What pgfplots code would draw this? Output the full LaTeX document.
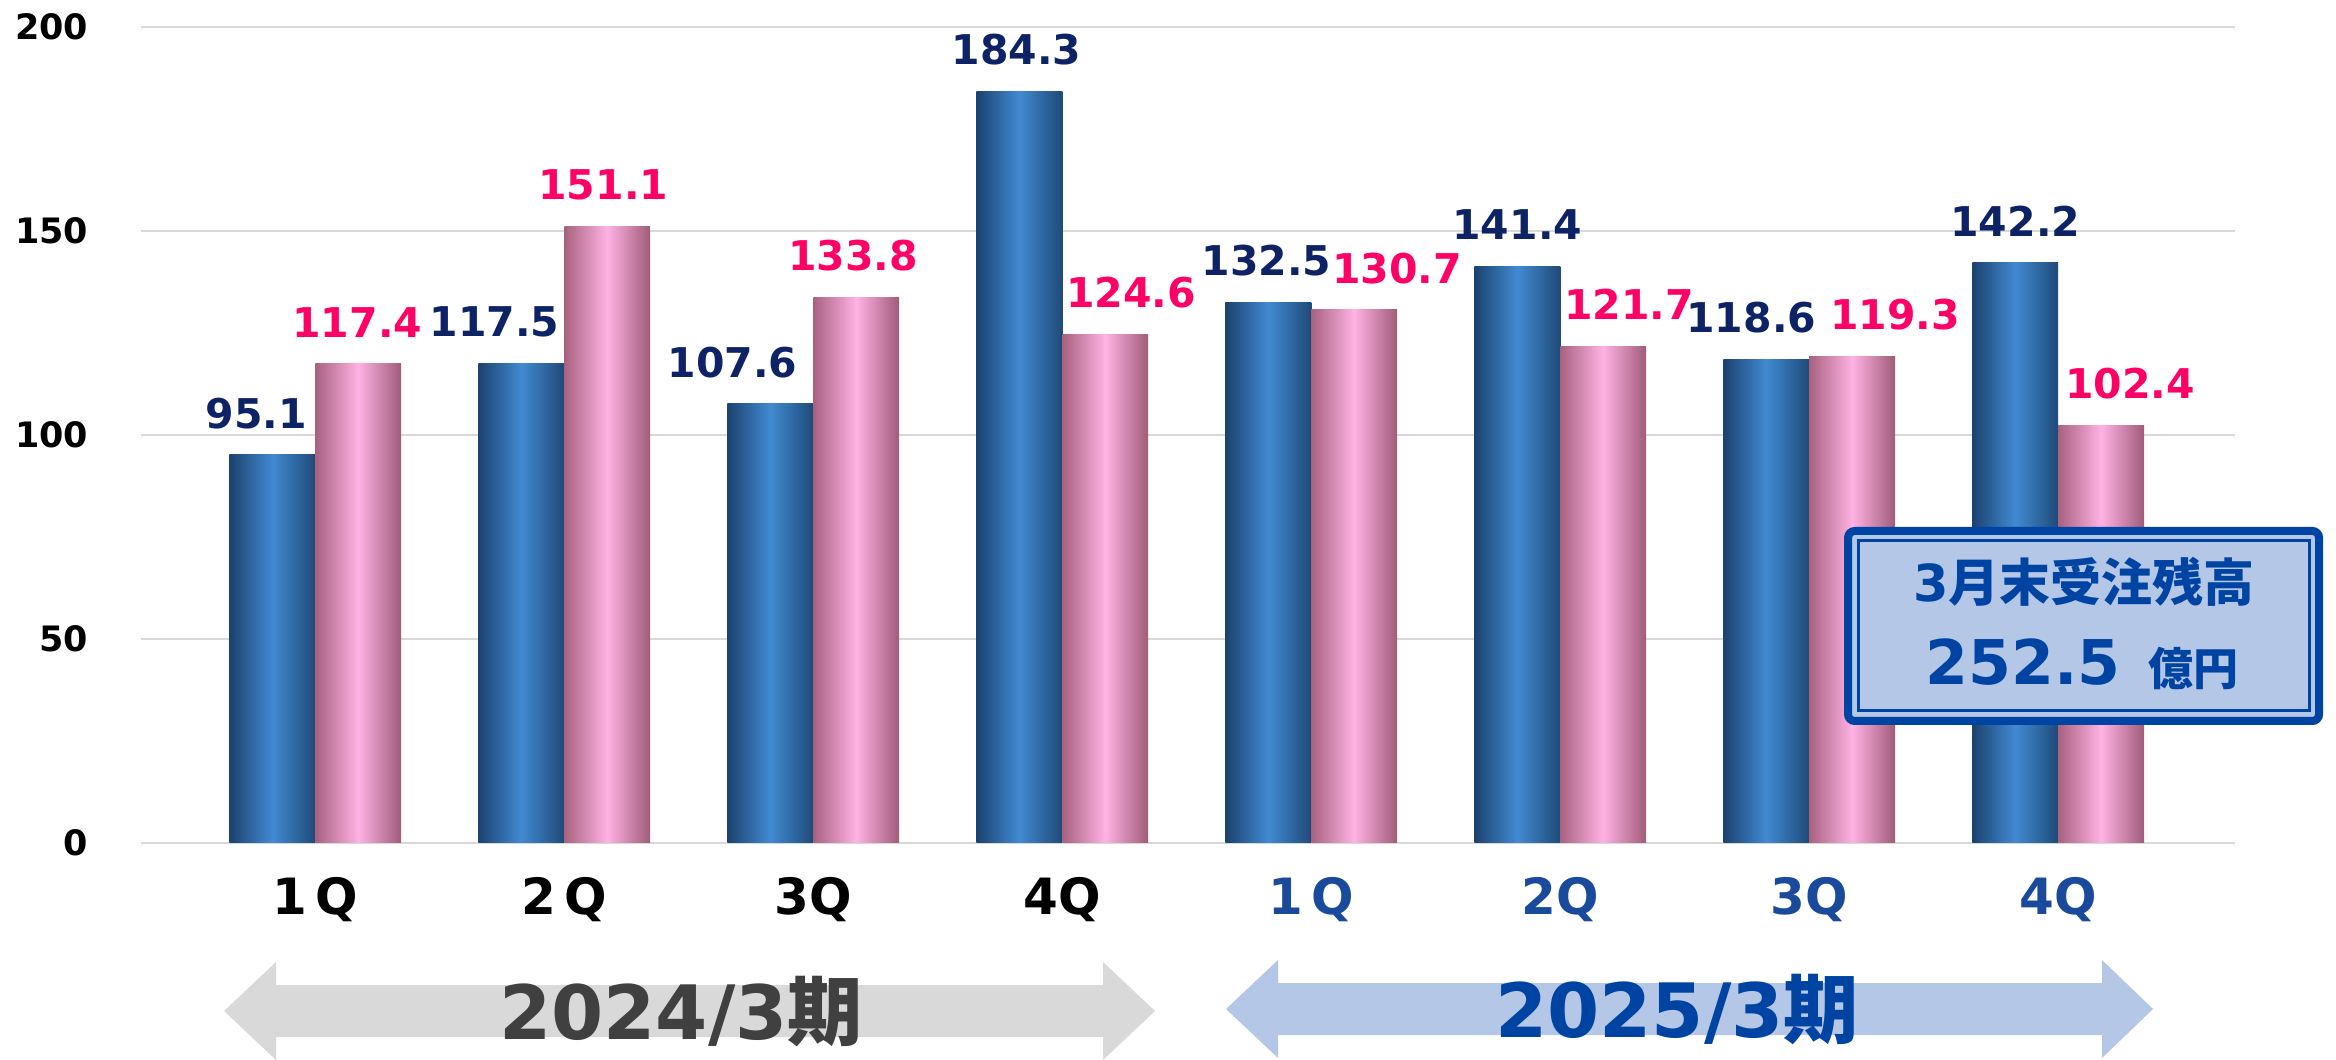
\documentclass[border=0pt]{standalone}
\usepackage{pgfplots}
\pgfplotsset{compat=1.18}
\usepackage{pgfplotstable}
\usepackage{fontspec}
\setmainfont{DejaVu Sans}
\newfontfamily\jp{Noto Sans CJK JP}

\definecolor{navylab}{HTML}{0D2366}
\definecolor{pinklab}{HTML}{FF0066}
\definecolor{bL}{HTML}{1C426F}
\definecolor{bM}{HTML}{418AD2}
\definecolor{bR}{HTML}{1F4A78}
\definecolor{pL}{HTML}{A8627F}
\definecolor{pM}{HTML}{FFB2E4}
\definecolor{pR}{HTML}{A05C78}
\definecolor{catblue}{HTML}{1A4A9C}
\definecolor{arrgray}{HTML}{D9D9D9}
\definecolor{arrblue}{HTML}{B4C7E7}
\definecolor{txtgray}{HTML}{404040}
\definecolor{txtblue}{HTML}{0044A3}
\definecolor{gridc}{HTML}{D9D9D9}

\pgfplotstableread{
x y dx lbl
0 95.1 -4.8 95.1
1 117.5 -8.1 117.5
2 107.6 -11.4 107.6
3 184.3 -0.9 184.3
4 132.5 -0.6 132.5
5 141.4 0 141.4
6 118.6 -4.5 118.6
7 142.2 0 142.2
}\bluedata

\pgfplotstableread{
x y dx lbl
0 117.4 -0.3 117.4
1 151.1 -1.2 151.1
2 133.8 -0.9 133.8
3 124.6 7.8 124.6
4 130.7 12.9 130.7
5 121.7 7.8 121.7
6 119.3 12.9 119.3
7 102.4 8.7 102.4
}\pinkdata

\pgfplotsset{
  barlab/.style={
    point meta=explicit symbolic,
    visualization depends on={\thisrow{dx}\as\labdx},
    nodes near coords,
    every node near coord/.append style={font=\fontsize{12.3}{13}\selectfont\bfseries, text=#1, anchor=base, inner sep=0pt, yshift=8pt, xshift=\labdx pt},
  },
  bluebar/.style={ybar, bar shift=-0.1725, draw=none, left color=bL, right color=bR, middle color=bM, barlab=navylab},
  pinkbar/.style={ybar, bar shift=0.1725, draw=none, left color=pL, right color=pR, middle color=pM, barlab=pinklab},
}

\begin{document}
\begin{tikzpicture}
\begin{axis}[
  at={(42.3pt,65.1pt)}, anchor=south west,
  scale only axis, width=628.2pt, height=244.8pt,
  xmin=-0.70, xmax=7.71, ymin=0, ymax=200,
  ytick={0,50,100,150,200},
  xtick={0,...,7},
  xticklabels={{1\,Q},{2\,Q},{3Q},{4Q},{\textcolor{catblue}{1\,Q}},{\textcolor{catblue}{2Q}},{\textcolor{catblue}{3Q}},{\textcolor{catblue}{4Q}}},
  axis line style={draw=none},
  major tick length=0pt,
  ymajorgrids, grid style={line width=0.8pt, color=gridc},
  /pgf/number format/assume math mode=true,
  yticklabel style={font=\fontsize{10.5}{11}\selectfont\bfseries, anchor=east, inner sep=0pt, xshift=-15.6pt},
  xticklabel style={font=\fontsize{15}{16}\selectfont\bfseries, anchor=base, inner sep=0pt, yshift=-21.6pt},
  ybar, bar width=0.345,
  clip=false,
]
\pgfplotsinvokeforeach{0,...,7}{
  \addplot[bluebar, restrict x to domain=#1:#1] table[x=x, y=y, meta=lbl] {\bluedata};
  \addplot[pinkbar, restrict x to domain=#1:#1] table[x=x, y=y, meta=lbl] {\pinkdata};
}
\end{axis}

\begin{scope}[x=0.3pt, y=-0.3pt, yshift=318pt]
  % arrows
  \fill[arrgray] (224,1011) -- (276,962) -- (276,985) -- (1103,985) -- (1103,962) -- (1155,1011) -- (1103,1060) -- (1103,1037) -- (276,1037) -- (276,1060) -- cycle;
  \fill[arrblue] (1226,1009) -- (1278,960) -- (1278,983) -- (2102,983) -- (2102,960) -- (2153,1009) -- (2102,1058) -- (2102,1035) -- (1278,1035) -- (1278,1058) -- cycle;
  \node[text=txtgray, font=\fontsize{22.5}{24}\selectfont\bfseries, inner sep=0pt] at (681,1012) {2024/3{\jp 期}};
  \node[text=txtblue, font=\fontsize{22.5}{24}\selectfont\bfseries, inner sep=0pt] at (1677,1010) {2025/3{\jp 期}};
  % box
  \draw[draw=txtblue, fill=arrblue, line width=2.4pt, rounded corners=2pt] (1848,531) rectangle (2319,721);
  \draw[draw=txtblue, line width=0.9pt] (1858,541) rectangle (2309,711);
  \node[text=txtblue, font=\fontsize{15.3}{16}\selectfont\bfseries, inner sep=0pt] at (2084,582) {3{\jp 月末受注残高}};
  \node[text=txtblue, font=\fontsize{18.5}{19}\selectfont\bfseries, inner sep=0pt, anchor=base] at (2023,685) {252.5};
  \node[text=txtblue, font=\fontsize{13.5}{14}\selectfont\bfseries, inner sep=0pt, anchor=base] at (2193,686) {\jp 億円};
\end{scope}
\pgfresetboundingbox
\path[use as bounding box] (0,0) rectangle (700.8pt,318pt);
\end{tikzpicture}
\end{document}
